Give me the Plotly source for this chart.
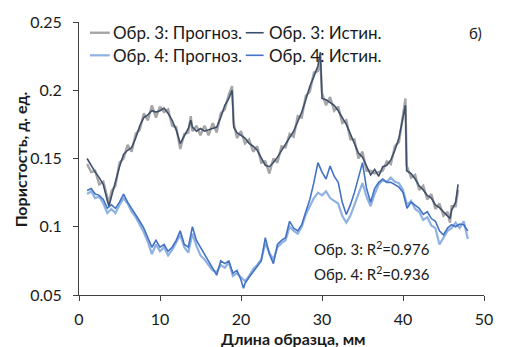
import plotly.graph_objects as go

# ---- data ----
x3 = [1.0, 1.5, 2.0, 2.5, 3.0, 3.5, 3.7, 4.0, 4.5, 5.0, 5.5, 6.0, 6.5, 7.0, 7.5, 8.0, 8.5, 9.0, 9.5, 10.0,
      10.5, 11.0, 11.5, 12.0, 12.5, 13.0, 13.5, 13.8, 14.0, 14.5, 15.0, 15.5, 16.0, 16.5, 17.0, 17.5, 18.0,
      18.5, 18.9, 19.1, 19.5, 20.0, 20.5, 21.0, 21.5, 22.0, 22.5, 23.0, 23.5, 24.0, 24.5, 25.0, 25.5, 26.0,
      26.5, 27.0, 27.5, 28.0, 28.5, 29.0, 29.5, 29.8, 30.0, 30.5, 31.0, 31.5, 32.0, 32.5, 33.0, 33.5, 34.0,
      34.5, 35.0, 35.5, 36.0, 36.5, 37.0, 37.5, 38.0, 38.5, 39.0, 39.5, 40.0, 40.3, 40.45, 41.0, 41.5, 42.0,
      42.5, 43.0, 43.5, 44.0, 44.5, 45.0, 45.5, 45.8, 46.0, 46.5, 46.8]
obr3_true = [.150, .1445, .140, .136, .131, .119, .115, .122, .134, .144, .153, .156, .158, .165, .174, .180,
             .182, .185, .184, .185, .187, .183, .178, .171, .161, .166, .172, .178, .173, .170, .172, .170,
             .171, .172, .173, .180, .189, .194, .200, .173, .169, .167, .165, .161, .159, .156, .151, .145,
             .144, .147, .151, .156, .161, .165, .170, .177, .184, .193, .203, .210, .218, .228, .194, .193,
             .191, .189, .185, .180, .175, .168, .161, .154, .151, .145, .138, .142, .137, .144, .145, .149,
             .156, .165, .179, .189, .141, .139, .135, .130, .127, .123, .121, .116, .114, .111, .108, .106,
             .112, .118, .131]
obr3_pred = [.146, .140, .141, .131, .133, .121, .117, .126, .130, .147, .150, .160, .155, .168, .171, .183,
             .178, .189, .180, .188, .184, .186, .174, .173, .157, .168, .169, .181, .170, .174, .167, .174,
             .167, .176, .169, .183, .186, .197, .203, .176, .165, .170, .161, .164, .155, .159, .147, .148,
             .139, .150, .147, .159, .158, .168, .166, .181, .180, .196, .199, .213, .214, .222, .198, .189,
             .195, .185, .188, .176, .178, .164, .164, .150, .155, .141, .141, .139, .140, .141, .148, .146,
             .159, .162, .182, .194, .145, .136, .138, .127, .130, .120, .124, .113, .117, .108, .111, .103,
             .115, .115, .127]

x4 = [1.0, 1.5, 2.0, 2.5, 3.0, 3.5, 4.0, 4.5, 5.0, 5.5, 6.0, 6.5, 7.0, 7.5, 8.0, 8.5, 9.0, 9.5, 10.0, 10.5,
      11.0, 11.5, 12.0, 12.5, 13.0, 13.5, 14.0, 14.5, 15.0, 15.5, 16.0, 16.5, 17.0, 17.5, 18.0, 18.5, 19.0,
      19.5, 20.0, 20.3, 20.5, 21.0, 21.5, 22.0, 22.5, 23.0, 23.5, 24.0, 24.5, 25.0, 25.5, 26.0, 26.5, 27.0,
      27.5, 28.0, 28.5, 29.0, 29.5, 30.0, 30.5, 31.0, 31.5, 32.0, 32.5, 33.0, 33.5, 34.0, 34.5, 35.0, 35.5,
      36.0, 36.5, 37.0, 37.5, 38.0, 38.5, 39.0, 39.5, 40.0, 40.5, 41.0, 41.5, 42.0, 42.5, 43.0, 43.5, 44.0,
      44.5, 45.0, 45.5, 46.0, 46.5, 47.0, 47.5, 48.0]
obr4_true = [.1266, .128, .124, .123, .120, .1135, .116, .1135, .118, .124, .118, .1135, .109, .104, .099,
             .092, .085, .090, .085, .087, .082, .085, .090, .097, .087, .085, .100, .090, .085, .080, .075,
             .0705, .0645, .075, .073, .075, .066, .068, .061, .055, .0585, .063, .067, .0705, .075, .092,
             .080, .073, .087, .090, .092, .104, .099, .097, .1015, .111, .120, .1325, .147, .140, .135,
             .1445, .137, .1325, .118, .109, .116, .125, .137, .147, .128, .118, .128, .1325, .135, .1325,
             .1325, .131, .129, .125, .1135, .118, .116, .1135, .109, .111, .106, .104, .097, .094, .099,
             .1015, .100, .102, .1015, .097]
obr4_pred = [.124, .126, .121, .122, .117, .110, .113, .110, .116, .121, .117, .111, .107, .102, .096, .089,
             .080, .087, .082, .085, .079, .083, .088, .094, .085, .081, .095, .086, .079, .076, .072, .068,
             .067, .072, .070, .074, .064, .066, .063, .061, .060, .064, .069, .072, .076, .088, .081, .076,
             .085, .088, .090, .100, .097, .095, .100, .109, .115, .121, .125, .123, .126, .121, .119, .117,
             .108, .103, .108, .116, .124, .132, .122, .115, .124, .131, .134, .133, .136, .133, .132, .127,
             .116, .119, .113, .111, .105, .107, .101, .099, .087, .092, .097, .099, .103, .099, .104, .091]

names = ["Обр. 3: Прогноз.", "Обр. 3: Истин.", "Обр. 4: Прогноз.", "Обр. 4: Истин."]
y_ticks = [0.05, 0.1, 0.15, 0.2, 0.25]
y_tick_text = ["0.05", "0.1", "0.15", "0.2", "0.25"]
x_ticks = [0, 10, 20, 30, 40, 50]

FONT = "Lato"
TXT = "#1a1a1a"
colors = ["#A6A6A6", "#3E4F6B", "#8EB1E3", "#4472C4"]
widths = [2.4, 1.6, 2.2, 1.6]
series = [(x3, obr3_pred), (x3, obr3_true), (x4, obr4_pred), (x4, obr4_true)]

fig = go.Figure()
for (xs, ys), nm, c, w in zip(series, names, colors, widths):
    fig.add_trace(go.Scatter(x=xs, y=ys, name=nm, mode="lines", showlegend=False,
                             line=dict(color=c, width=w)))

fig.update_layout(
    width=505, height=347,
    margin=dict(l=79, r=18, t=16, b=52),
    paper_bgcolor="white", plot_bgcolor="white",
    font=dict(family=FONT, size=16, color=TXT),
    showlegend=False,
)
fig.update_xaxes(range=[0, 50], tickvals=x_ticks, showline=True, linecolor="#404040", linewidth=1,
                 ticks="outside", ticklen=5, tickcolor="#404040", showgrid=False, zeroline=False,
                 ticklabelstandoff=5, tickfont=dict(size=16, color=TXT))
fig.update_yaxes(range=[0.05, 0.25], tickvals=y_ticks, ticktext=y_tick_text, showline=True,
                 linecolor="#404040", linewidth=1, ticks="outside", ticklen=5, tickcolor="#404040",
                 showgrid=False, zeroline=False, ticklabelstandoff=8, tickfont=dict(size=16, color=TXT))

# manual legend (2 x 2), positions in paper coordinates
leg_rows = [0.9606, 0.878]
leg_cols = [(0.027, 0.076, 0.0784), (0.4118, 0.4559, 0.4632)]
for i, (nm, c, w) in enumerate(zip(names, colors, widths)):
    r, k = divmod(i, 2)
    x0, x1, xt = leg_cols[k]
    yy = leg_rows[r]
    fig.add_shape(type="line", xref="paper", yref="paper", x0=x0, x1=x1, y0=yy, y1=yy,
                  line=dict(color=c, width=w))
    fig.add_annotation(text=nm, xref="paper", yref="paper", x=xt, y=yy, xanchor="left",
                       yanchor="middle", showarrow=False, font=dict(size=17, color=TXT))

fig.add_annotation(text="б)", xref="paper", yref="paper", x=0.978, y=0.96, xanchor="center",
                   yanchor="middle", showarrow=False, font=dict(size=15))
fig.add_annotation(text="Обр. 3: R<sup>2</sup>=0.976", xref="paper", yref="paper", x=0.576, y=0.172,
                   xanchor="left", yanchor="middle", showarrow=False, font=dict(size=15))
fig.add_annotation(text="Обр. 4: R<sup>2</sup>=0.936", xref="paper", yref="paper", x=0.576, y=0.079,
                   xanchor="left", yanchor="middle", showarrow=False, font=dict(size=15))
fig.add_annotation(text="<b>Длина образца, мм</b>", xref="paper", yref="paper", x=0.529, y=-0.158,
                   xanchor="center", yanchor="middle", showarrow=False, font=dict(size=16))
fig.add_annotation(text="<b>Пористость, д. ед.</b>", xref="paper", yref="paper", x=-0.145, y=0.498,
                   xanchor="center", yanchor="middle", textangle=-90, showarrow=False,
                   font=dict(size=16))

fig.write_html("out.html")
